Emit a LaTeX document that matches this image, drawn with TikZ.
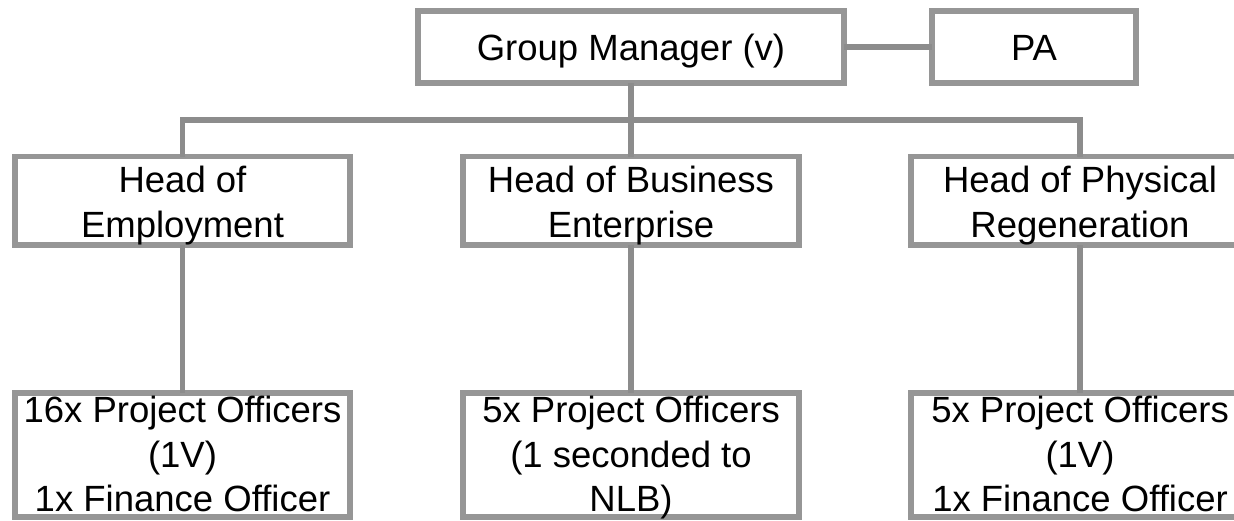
\documentclass[tikz,border=0pt]{standalone}
\usepackage{fontspec}
\setmainfont{Liberation Sans}
\definecolor{boxgray}{RGB}{150,150,150}
\definecolor{linegray}{RGB}{140,140,140}
\begin{document}
\begin{tikzpicture}[x=1pt,y=-1pt,
  orgbox/.style={draw=boxgray,line width=5.5pt,fill=white,rectangle,inner sep=0pt,outer sep=0pt},
  orgtext/.style={font=\fontsize{36.5}{44.5}\selectfont,align=center,inner sep=0pt,text=black},
  conn/.style={draw=linegray,line width=5.5pt,line join=miter}]
\useasboundingbox (0,0) rectangle (1234,520);
\clip (0,0) rectangle (1234,520);
% top row
\node[orgbox,minimum width=426pt,minimum height=72pt] (gm) at (631,47) {};
\node[orgbox,minimum width=204pt,minimum height=72pt] (pa) at (1034,47) {};
% heads
\node[orgbox,minimum width=335pt,minimum height=88.5pt] (hoe) at (182.5,200.75) {};
\node[orgbox,minimum width=336pt,minimum height=88.5pt] (hob) at (631,200.75) {};
\node[orgbox,minimum width=338pt,minimum height=88.5pt] (hop) at (1080,200.75) {};
% bottom
\node[orgbox,minimum width=335pt,minimum height=124pt] (bo1) at (182.5,455) {};
\node[orgbox,minimum width=336pt,minimum height=124pt] (bo2) at (631,455) {};
\node[orgbox,minimum width=338pt,minimum height=124pt] (bo3) at (1080,455) {};
% connectors
\coordinate (busL) at (182.5,120);
\coordinate (busM) at (631,120);
\coordinate (busR) at (1080,120);
\draw[conn] (gm.east) -- (pa.west);
\draw[conn] (gm.south) -- (busM);
\draw[conn] (hoe.north) -- (busL) -- (busR) -- (hop.north);
\draw[conn] (busM) -- (hob.north);
\draw[conn] (hoe.south) -- (bo1.north);
\draw[conn] (hob.south) -- (bo2.north);
\draw[conn] (hop.south) -- (bo3.north);
% texts
\node[orgtext,anchor=base] (tgm) at (631,60) {Group Manager (v)};
\node[orgtext,anchor=base] (tpa) at (1034,60) {PA};
\node[orgtext,text depth=8pt] (thoe) at (182.5,206) {Head of\\Employment};
\node[orgtext,text depth=8pt] (thob) at (631,206) {Head of Business\\Enterprise};
\node[orgtext,text depth=8pt] (thop) at (1080,206) {Head of Physical\\Regeneration};
\node[orgtext,text depth=8pt] (tbo1) at (182.5,458) {16x Project Officers\\(1V)\\1x Finance Officer};
\node[orgtext,text depth=8pt] (tbo2) at (631,458) {5x Project Officers\\(1 seconded to\\NLB)};
\node[orgtext,text depth=8pt] (tbo3) at (1080,458) {5x Project Officers\\(1V)\\1x Finance Officer};
\end{tikzpicture}
\end{document}
